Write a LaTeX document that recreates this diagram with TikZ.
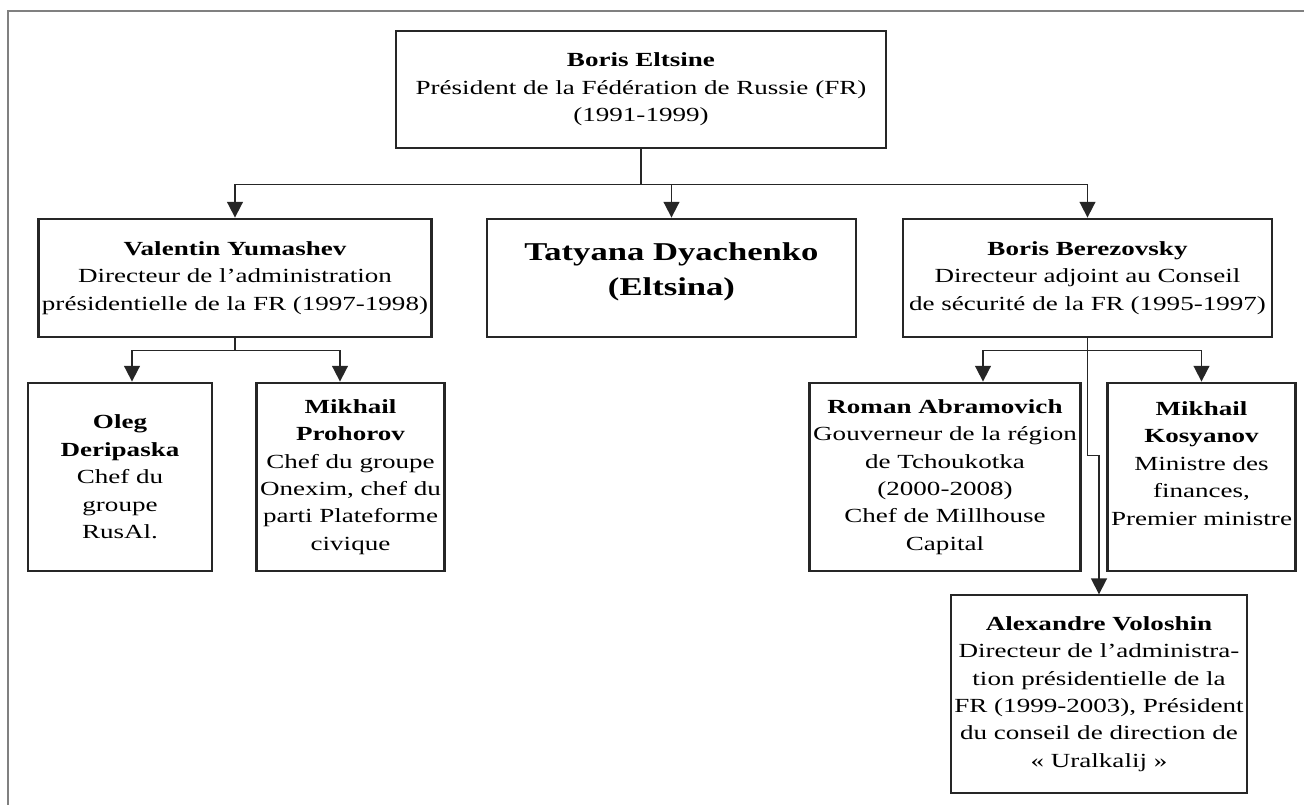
\documentclass[tikz,border=0pt]{standalone}
\usepackage{fontspec}
\setmainfont{Liberation Serif}[FakeStretch=1.35]
\usepackage{tikz}
\usetikzlibrary{arrows.meta}

\begin{document}
\begin{tikzpicture}[ ]
%Declaration of styles
	\tikzstyle{box} = [rectangle, draw=black!85, line width=1.6pt, align=center, inner sep=2pt, font=\fontsize{11.4}{15.6}\selectfont] %style for the boxes
	\tikzstyle{thinbox} = [box, line width=0.8pt] %the last box has a thin border
	\tikzstyle{link} = [draw=black!85, line width=1pt] %plain line
	\tikzstyle{arr} = [link, -{Triangle[width=9pt,length=9pt]}] %line ending with an arrow
%Page size and frame
	\useasboundingbox (0,0) rectangle (26.08,-16.1);
	\draw [gray, line width=0.9pt] (0.16,-0.22) rectangle (26.6,-16.6);
%Nodes, the people of the chart
	\node [box, minimum width=9.8cm, minimum height=2.34cm] (eltsine) at (12.82,-1.79) {\textbf{Boris Eltsine}\\ Président de la Fédération de Russie (FR)\\ (1991-1999)};
	\node [box, minimum width=7.4cm, minimum height=2.36cm] (yumashev) at (4.70,-5.56) {\textbf{Valentin Yumashev}\\ Directeur de l’administration\\ présidentielle de la FR (1997-1998)};
	\node [box, minimum width=7.38cm, minimum height=2.36cm, font=\fontsize{14.6}{20}\selectfont\bfseries] (tatyana) at (13.43,-5.56) {Tatyana Dyachenko\\ (Eltsina)\\[-9.8pt] ~};
	\node [box, minimum width=7.38cm, minimum height=2.36cm] (berezovsky) at (21.75,-5.56) {\textbf{Boris Berezovsky}\\ Directeur adjoint au Conseil\\ de sécurité de la FR (1995-1997)};
	\node [box, minimum width=3.68cm, minimum height=3.76cm] (oleg) at (2.40,-9.54) {\textbf{Oleg}\\ \textbf{Deripaska}\\ Chef du\\ groupe\\ RusAl.};
	\node [box, minimum width=3.70cm, minimum height=3.76cm] (prohorov) at (7.01,-9.54) {\textbf{Mikhail}\\ \textbf{Prohorov}\\ Chef du groupe\\ Onexim, chef du\\ parti Plateforme\\ civique};
	\node [box, minimum width=5.2cm, minimum height=3.76cm] (abramovich) at (18.90,-9.54) {\textbf{Roman Abramovich}\\ Gouverneur de la région\\ de Tchoukotka\\ (2000-2008)\\ Chef de Millhouse\\ Capital};
	\node [box, minimum width=3.66cm, minimum height=3.76cm] (kosyanov) at (24.03,-9.54) {\textbf{Mikhail}\\ \textbf{Kosyanov}\\ Ministre des\\ finances,\\ Premier ministre\\ ~};
	\node [thinbox, minimum width=5.92cm, minimum height=3.96cm] (voloshin) at (21.98,-13.88) {\textbf{Alexandre Voloshin}\\ Directeur de l’administra-\\ tion présidentielle de la\\ FR (1999-2003), Président\\ du conseil de direction de\\ «~Uralkalij~»};
%Connectors
	\draw [link] (eltsine.south) -- ++(0,-0.7) coordinate (forkE);
	\draw [arr] (forkE) -| (yumashev.north);
	\draw [arr] (forkE) -| (tatyana.north);
	\draw [arr] (forkE) -| (berezovsky.north);
	\draw [link] (yumashev.south) -- ++(0,-0.24) coordinate (forkY);
	\draw [arr] (forkY) -| ([xshift=0.24cm]oleg.north);
	\draw [arr] (forkY) -| ([xshift=-0.21cm]prohorov.north);
	\draw [link] (berezovsky.south) -- ++(0,-0.24) coordinate (forkB);
	\draw [arr] (forkB) -| ([xshift=0.76cm]abramovich.north);
	\draw [arr] (forkB) -| (kosyanov.north);
	\draw [arr] (berezovsky.south) -- ++(0,-2.34) -| (voloshin.north);
\end{tikzpicture}
\end{document}
